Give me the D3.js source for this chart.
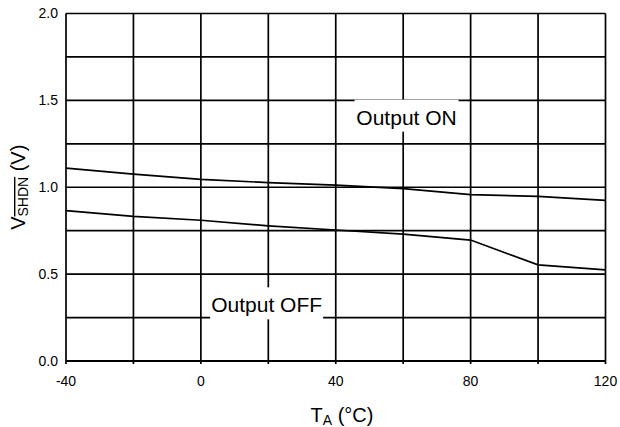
<!DOCTYPE html>
<html>
<head>
<meta charset="utf-8">
<script src="https://cdn.jsdelivr.net/npm/d3@7"></script>
<style>
  body { margin: 0; background: #fff; }
  text { font-family: "Liberation Sans", Arial, sans-serif; fill: #000; }
</style>
</head>
<body>
<div class="chart"></div>
<script>
const svgWidth = 620;
const svgHeight = 427;

const margin = { top: 13.5, right: 14.5, bottom: 66, left: 66 };
const width = svgWidth - margin.left - margin.right;
const height = svgHeight - margin.top - margin.bottom;

// data
const temps = [-40, -20, 0, 20, 40, 60, 80, 100, 120];
const onThreshold = [1.11, 1.075, 1.045, 1.027, 1.012, 0.992, 0.958, 0.947, 0.924];
const offThreshold = [0.866, 0.832, 0.81, 0.778, 0.754, 0.73, 0.696, 0.553, 0.524];
const xTicks = [-40, 0, 40, 80, 120];
const yTicks = [0, 0.5, 1.0, 1.5, 2.0];
const xGrid = d3.range(-40, 121, 20);
const yGrid = d3.range(0, 2.01, 0.25);

const svg = d3.select(".chart")
  .append("svg")
  .attr("width", svgWidth)
  .attr("height", svgHeight);

const chartGroup = svg.append("g")
  .attr("transform", `translate(${margin.left}, ${margin.top})`);

const x = d3.scaleLinear().domain([-40, 120]).range([0, width]);
const y = d3.scaleLinear().domain([0, 2]).range([height, 0]);

const lineW = 1.7;

// grid
chartGroup.append("g").selectAll("line")
  .data(yGrid)
  .enter().append("line")
  .attr("x1", 0).attr("x2", width)
  .attr("y1", d => y(d)).attr("y2", d => y(d))
  .attr("stroke", "#000").attr("stroke-width", lineW);

chartGroup.append("g").selectAll("line")
  .data(xGrid)
  .enter().append("line")
  .attr("x1", d => x(d)).attr("x2", d => x(d))
  .attr("y1", 0).attr("y2", height + 3)
  .attr("stroke", "#000").attr("stroke-width", lineW);

// bottom axis line a bit heavier
chartGroup.append("line")
  .attr("x1", 0).attr("x2", width)
  .attr("y1", height).attr("y2", height)
  .attr("stroke", "#000").attr("stroke-width", 2.2);

// tick labels
chartGroup.append("g").selectAll("text")
  .data(xTicks)
  .enter().append("text")
  .attr("x", d => x(d))
  .attr("y", height + 25)
  .attr("text-anchor", "middle")
  .style("font-size", "14px")
  .text(d => d);

chartGroup.append("g").selectAll("text")
  .data(yTicks)
  .enter().append("text")
  .attr("x", -8)
  .attr("y", d => y(d))
  .attr("dy", "0.35em")
  .attr("text-anchor", "end")
  .style("font-size", "14px")
  .text(d => d3.format(".1f")(d));

// curves
const line = d3.line()
  .x((d, i) => x(temps[i]))
  .y(d => y(d));

[onThreshold, offThreshold].forEach(series => {
  chartGroup.append("path")
    .datum(series)
    .attr("d", line)
    .attr("fill", "none")
    .attr("stroke", "#000")
    .attr("stroke-width", 1.7);
});

// region labels on white boxes
function boxLabel(label, cx, baseline, w) {
  chartGroup.append("rect")
    .attr("x", x(cx) - w / 2)
    .attr("y", y(baseline) - 25)
    .attr("width", w)
    .attr("height", 32)
    .attr("fill", "#fff");
  chartGroup.append("text")
    .attr("x", x(cx))
    .attr("y", y(baseline))
    .attr("text-anchor", "middle")
    .style("font-size", "21px")
    .text(label);
}
boxLabel("Output ON", 61, 1.36, 104);
boxLabel("Output OFF", 19.5, 0.28, 113);

// axis titles
const xTitle = svg.append("text")
  .attr("x", 342)
  .attr("y", 422)
  .attr("text-anchor", "middle")
  .style("font-size", "20px");
xTitle.append("tspan").text("T");
xTitle.append("tspan").attr("dy", 3).style("font-size", "14px").text("A");
xTitle.append("tspan").attr("dy", -3).text(" (°C)");

const yTitle = svg.append("text")
  .attr("transform", `translate(25, ${margin.top + height / 2}) rotate(-90)`)
  .attr("text-anchor", "middle")
  .style("font-size", "20px");
yTitle.append("tspan").text("V");
yTitle.append("tspan").attr("dy", 3).style("font-size", "14px")
  .style("text-decoration", "overline").text("SHDN");
yTitle.append("tspan").attr("dy", -3).text(" (V)");
</script>
</body>
</html>
